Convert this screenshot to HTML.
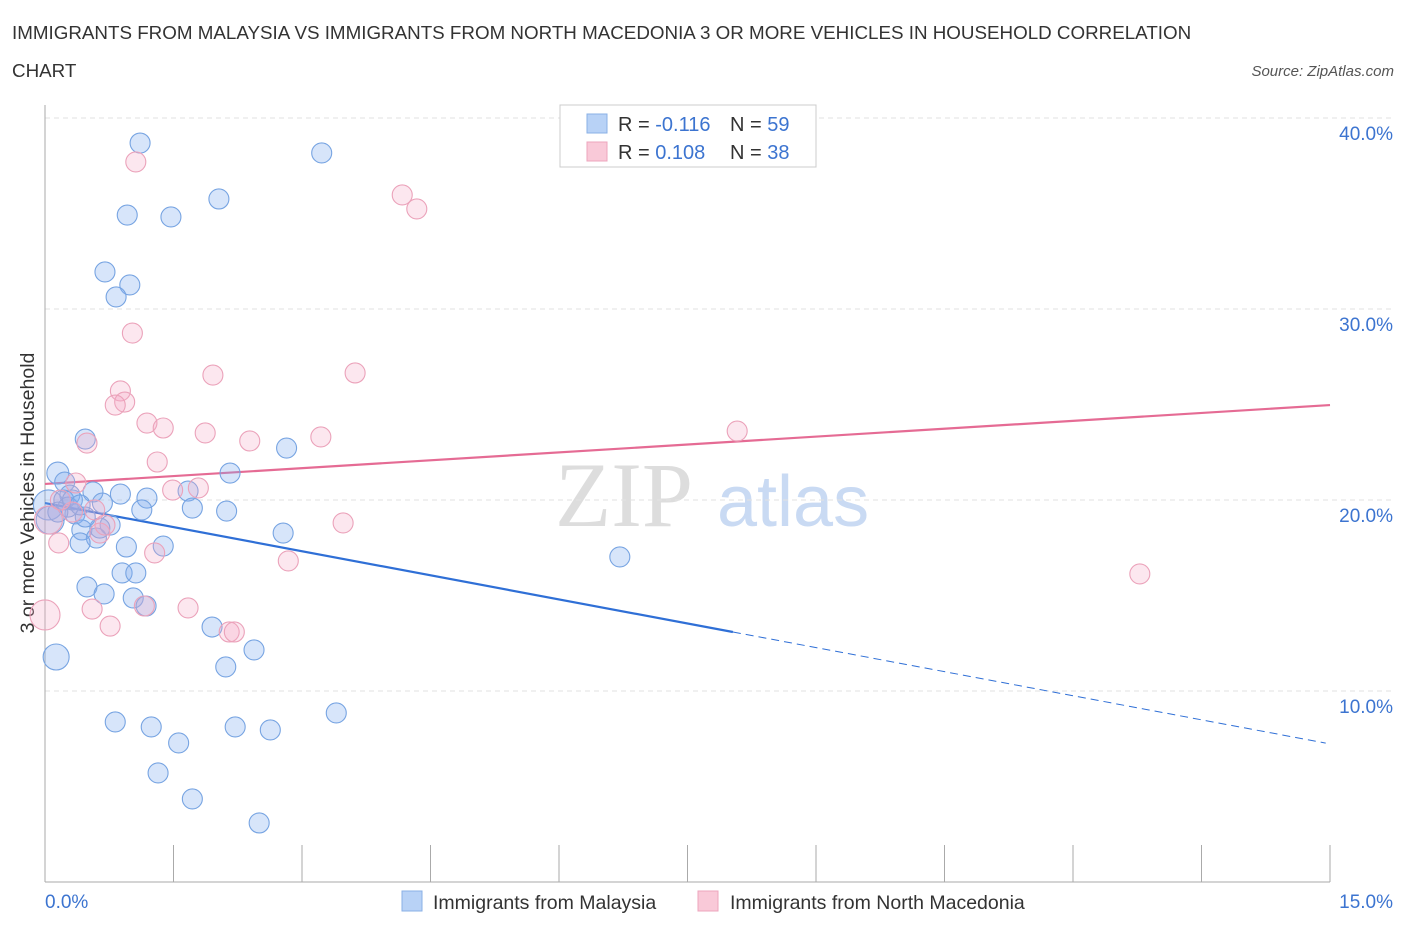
<!DOCTYPE html>
<html><head><meta charset="utf-8"><style>
body{margin:0;background:#fff;font-family:"Liberation Sans",sans-serif;}
</style></head><body>
<svg id="chart" width="1406" height="930" xmlns="http://www.w3.org/2000/svg" font-family="Liberation Sans, sans-serif">
<text x="12" y="39" font-size="18.8" fill="#333">IMMIGRANTS FROM MALAYSIA VS IMMIGRANTS FROM NORTH MACEDONIA 3 OR MORE VEHICLES IN HOUSEHOLD CORRELATION</text>
<text x="12" y="77" font-size="18.8" fill="#333">CHART</text>
<text x="1394" y="76" font-size="15" fill="#555" font-style="italic" text-anchor="end">Source: ZipAtlas.com</text>
<text transform="translate(34,493) rotate(-90)" font-size="19.5" fill="#333" text-anchor="middle">3 or more Vehicles in Household</text>
<g>
<text x="555" y="526" font-size="92" fill="#ddd" font-family="Liberation Serif, serif">ZIP</text>
<text x="717" y="526" font-size="72" fill="#c9daf3">atlas</text>
</g>
<g id="grid"></g>
<g id="axes"></g>
<g id="trends"></g>
<g id="points"></g>
<g>
<rect x="560" y="105" width="256" height="62" fill="#fff" stroke="#ccc"/>
<rect x="587" y="114" width="20" height="19" fill="#b8d2f6" stroke="#8ab0e6"/>
<rect x="587" y="142" width="20" height="19" fill="#f9c9d8" stroke="#eda5bd"/>
<text x="618" y="131" font-size="20" fill="#333">R = <tspan fill="#3c74d0">-0.116</tspan></text>
<text x="730" y="131" font-size="20" fill="#333">N = <tspan fill="#3c74d0">59</tspan></text>
<text x="618" y="159" font-size="20" fill="#333">R = <tspan fill="#3c74d0"> 0.108</tspan></text>
<text x="730" y="159" font-size="20" fill="#333">N = <tspan fill="#3c74d0">38</tspan></text>
</g>
<g>
<rect x="402" y="891" width="20" height="20" fill="#b8d2f6" stroke="#8ab0e6"/>
<text x="433" y="909" font-size="19.5" fill="#333">Immigrants from Malaysia</text>
<rect x="698" y="891" width="20" height="20" fill="#f9c9d8" stroke="#eda5bd"/>
<text x="730" y="909" font-size="19.5" fill="#333">Immigrants from North Macedonia</text>
</g>
</svg>
<script>
const yTicks=[10,20,30,40];
const yTickLabels=["10.0%","20.0%","30.0%","40.0%"];
const xTickValues=[0,1.5,3,4.5,6,7.5,9,10.5,12,13.5,15];
const malaysiaX=[1.11,3.23,0.96,1.47,2.03,0.70,0.99,0.83,0.47,2.82,0.15,2.16,0.23,0.29,0.56,0.88,1.19,1.67,0.67,1.13,1.72,2.12,0.35,0.76,0.43,0.60,0.41,0.95,1.38,2.78,6.71,0.90,1.06,0.49,0.69,1.03,1.18,1.95,2.44,2.11,0.13,0.82,1.24,1.56,2.22,2.63,3.40,1.32,1.72,2.50,0.04,0.06,0.22,0.27,0.15,0.64,0.32,0.47,0.41];
const malaysiaY=[38.69,38.17,34.92,34.82,35.76,31.94,31.26,30.63,23.19,22.72,21.41,21.41,20.94,20.26,20.42,20.31,20.10,20.47,19.84,19.48,19.58,19.42,19.27,18.69,18.43,18.01,17.75,17.54,17.59,18.27,17.02,16.18,16.18,15.45,15.08,14.87,14.45,13.35,12.15,11.26,11.78,8.38,8.12,7.28,8.12,7.96,8.85,5.71,4.35,3.09,19.74,18.95,20.0,19.63,19.37,18.53,20.0,19.11,19.74];
const malaysiaR=[10,10,10,10,10,10,10,10,10,10,11,10,10,10,10,10,10,10,10,10,10,10,10,10,10,10,10,10,10,10,10,10,10,10,10,10,10,10,10,10,13,10,10,10,10,10,10,10,10,10,15,14,10,10,10,10,10,10,10];
const macedoniaX=[1.06,4.17,4.34,1.02,1.96,3.62,0.88,0.93,0.82,1.19,1.38,1.87,2.39,3.22,0.49,1.31,1.79,1.49,8.08,0.36,3.48,2.84,12.78,1.28,0.16,0.32,0.64,0.55,0.76,1.67,1.16,2.15,2.21,0.0,0.04,0.18,0.70,0.58];
const macedoniaY=[37.70,35.97,35.24,28.74,26.54,26.65,25.71,25.13,24.97,24.03,23.77,23.51,23.09,23.30,22.98,21.99,20.63,20.52,23.61,20.89,18.80,16.81,16.13,17.23,17.75,19.37,18.27,14.29,13.40,14.35,14.45,13.09,13.09,13.98,18.95,20.0,18.69,19.48];
const macedoniaR=[10,10,10,10,10,10,10,10,10,10,10,10,10,10,10,10,10,10,10,10,10,10,10,10,10,10,10,10,10,10,10,10,10,15,14,10,10,10];
const malaysiaTrend=[19.84,7.23]; const malaysiaSolidEnd=8.03;
const macedoniaTrend=[20.84,24.97];
const NS="http://www.w3.org/2000/svg";
const X0=45,X1=1330,Y0=882,PXY=19.1;
const sx=v=>X0+v/15*(X1-X0), sy=v=>Y0-v*PXY;
function mk(t,a,p){const e=document.createElementNS(NS,t);for(const k in a)e.setAttribute(k,a[k]);p.appendChild(e);return e;}
const grid=document.getElementById('grid'),axes=document.getElementById('axes'),trends=document.getElementById('trends'),pts=document.getElementById('points');
yTicks.forEach((v,i)=>{
 const l=mk('line',{x1:X0,x2:X1+65,y1:sy(v),y2:sy(v),stroke:'#e2e2e2','stroke-dasharray':'5,4'},grid);
 
 
 const t=mk('text',{x:1393,y:sy(v)+22,'font-size':19,fill:'#3c74d0','text-anchor':'end'},axes);
 t.textContent=yTickLabels[i];
 
 
});
const ya=mk('line',{x1:X0,x2:X0,y1:105,y2:Y0,stroke:'#aaa'},axes);


const xa=mk('line',{x1:X0,x2:X1,y1:Y0,y2:Y0,stroke:'#aaa'},axes);


xTickValues.forEach(v=>{
 const t=mk('line',{x1:sx(v),x2:sx(v),y1:Y0-37,y2:Y0,stroke:'#aaa'},axes);
 
 
});
const xl=mk('text',{x:45,y:908,'font-size':19,fill:'#3c74d0'},axes);xl.textContent='0.0%';


const xr=mk('text',{x:1393,y:908,'font-size':19,fill:'#3c74d0','text-anchor':'end'},axes);xr.textContent='15.0%';


function drawPts(xs,ys,rs,fill,stroke,name){xs.forEach((x,i)=>{
 const c=mk('circle',{cx:sx(x),cy:sy(ys[i]),r:rs[i],fill:fill,stroke:stroke,'stroke-width':1.1},pts);
 
 
});}
drawPts(malaysiaX,malaysiaY,malaysiaR,'rgba(130,175,238,0.32)','#77a4e2','malaysia-point');
drawPts(macedoniaX,macedoniaY,macedoniaR,'rgba(246,168,196,0.28)','#eba2ba','north-macedonia-point');
const mAt=x=>malaysiaTrend[0]+(malaysiaTrend[1]-malaysiaTrend[0])*x/15;
const l1=mk('line',{x1:sx(0),y1:sy(mAt(0)),x2:sx(malaysiaSolidEnd),y2:sy(mAt(malaysiaSolidEnd)),stroke:'#2f6fd6','stroke-width':2.2},trends);


const l2=mk('line',{x1:sx(malaysiaSolidEnd),y1:sy(mAt(malaysiaSolidEnd)),x2:sx(14.95),y2:sy(mAt(14.95)),stroke:'#2f6fd6','stroke-width':1,'stroke-dasharray':'8,5'},trends);


const l3=mk('line',{x1:sx(0),y1:sy(macedoniaTrend[0]),x2:sx(15),y2:sy(macedoniaTrend[1]),stroke:'#e56b94','stroke-width':2.2},trends);


</script>
</body></html>
